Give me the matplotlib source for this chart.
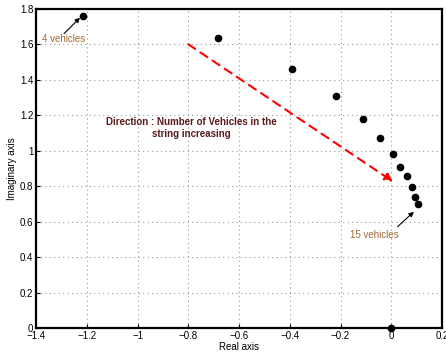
import numpy as np
import matplotlib
matplotlib.use('Agg')
from matplotlib import pyplot as plt

plt.rcParams['font.family'] = ['Liberation Sans', 'DejaVu Sans']
plt.rcParams['font.size'] = 7

# poles (real, imag) for 4..15 vehicles
re_pts = [-1.215, -0.683, -0.392, -0.219, -0.113, -0.046, 0.006, 0.033, 0.061, 0.080, 0.092, 0.104]
im_pts = [1.760, 1.637, 1.462, 1.309, 1.179, 1.072, 0.982, 0.909, 0.858, 0.796, 0.739, 0.700]
# extra pole at origin
re_zero = [0.0]
im_zero = [0.0]

xticks = [-1.4, -1.2, -1, -0.8, -0.6, -0.4, -0.2, 0, 0.2]
yticks = [0, 0.2, 0.4, 0.6, 0.8, 1, 1.2, 1.4, 1.6, 1.8]

fig = plt.figure(figsize=(4.46, 3.54), dpi=100)
ax = fig.add_axes([0.081, 0.073, 0.910, 0.902])

ax.plot(re_pts, im_pts, 'o', color='black', markersize=4.5)
ax.plot(re_zero, im_zero, 'o', color='black', markersize=4.5, clip_on=False, zorder=5)

ax.set_xlim(-1.4, 0.2)
ax.set_ylim(0, 1.8)
ax.set_xticks(xticks)
ax.set_yticks(yticks)
ax.set_xticklabels(['\u22121.4', '\u22121.2', '\u22121', '\u22120.8', '\u22120.6', '\u22120.4', '\u22120.2', '0', '0.2'])
ax.set_yticklabels(['0', '0.2', '0.4', '0.6', '0.8', '1', '1.2', '1.4', '1.6', '1.8'])
ax.tick_params(direction='in', length=3, width=0.8, pad=2)
ax.grid(True, linestyle=(0, (1, 3)), color='#999999', linewidth=0.8)
for s in ax.spines.values():
    s.set_linewidth(1.6)

ax.set_xlabel('Real axis', labelpad=1)
ax.set_ylabel('Imaginary axis', labelpad=2)

# red dashed direction arrow
ax.annotate('', xy=(0.007, 0.826), xytext=(-0.8, 1.6),
            arrowprops=dict(arrowstyle='-|>', color='red', linestyle=(0, (4, 3)),
                            linewidth=1.5, mutation_scale=12, shrinkA=0, shrinkB=0))
ax.text(-0.786, 1.13, 'Direction : Number of Vehicles in the\nstring increasing',
        ha='center', va='center', color='#5a1a1a', fontweight='bold', fontsize=7)

brown = '#a06a35'
ax.text(-1.29, 1.63, '4 vehicles', ha='center', va='center', color=brown, fontsize=7)
ax.annotate('', xy=(-1.227, 1.75), xytext=(-1.29, 1.66),
            arrowprops=dict(arrowstyle='-|>', color='black', linewidth=0.8,
                            mutation_scale=7, shrinkA=0, shrinkB=0))
ax.text(-0.065, 0.525, '15 vehicles', ha='center', va='center', color=brown, fontsize=7)
ax.annotate('', xy=(0.089, 0.656), xytext=(0.025, 0.572),
            arrowprops=dict(arrowstyle='-|>', color='black', linewidth=0.8,
                            mutation_scale=7, shrinkA=0, shrinkB=0))

fig.savefig('out.png', dpi=100)
